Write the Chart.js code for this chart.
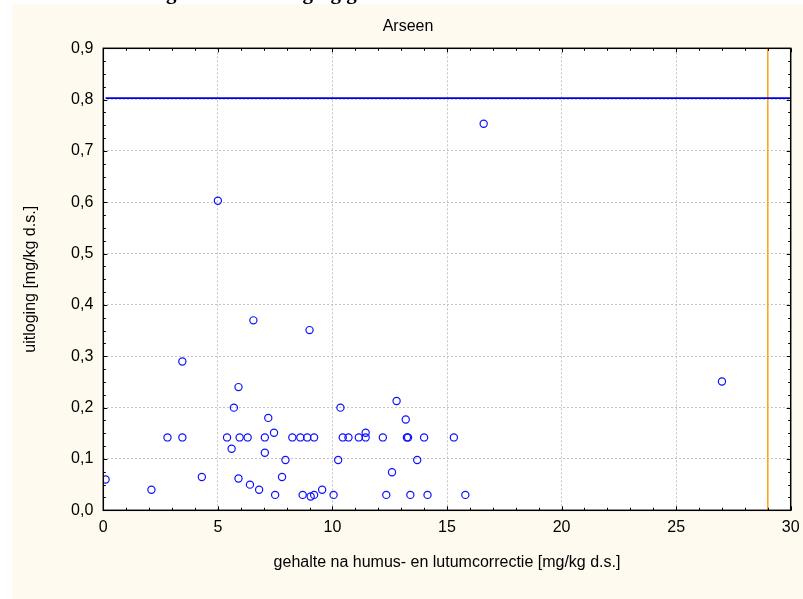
<!DOCTYPE html>
<html>
<head>
<meta charset="utf-8">
<script src="https://cdn.jsdelivr.net/npm/chart.js@4.4.1/dist/chart.umd.min.js"></script>
<style>
  html, body { margin: 0; padding: 0; background: #fff; overflow: hidden; }
  #wrap { width: 803px; height: 599px; }
  canvas { display: block; }
</style>
</head>
<body>
<div id="wrap"><canvas id="chart" width="803" height="599"></canvas></div>
<script>
// Arseen: gehalte (na correctie) tegen uitloging
const gehalte = [
  0.1, 2.1, 2.8, 3.45, 3.45, 4.3, 5.0, 5.4, 5.6, 5.7,
  5.9, 5.9, 5.95, 6.3, 6.4, 6.55, 6.8, 7.05, 7.05, 7.2,
  7.45, 7.5, 7.8, 7.95, 8.25, 8.6, 8.7, 8.9, 9.0, 9.05,
  9.2, 9.2, 9.55, 10.05, 10.25, 10.35, 10.45, 10.7, 11.15, 11.45,
  11.45, 12.2, 12.35, 12.6, 12.8, 13.2, 13.25, 13.3, 13.4, 13.7,
  14.0, 14.15, 15.3, 15.8, 16.6, 27.0
];
const uitloging = [
  0.06, 0.04, 0.142, 0.142, 0.29, 0.065, 0.603, 0.142, 0.12, 0.2,
  0.24, 0.062, 0.142, 0.142, 0.05, 0.37, 0.04, 0.142, 0.112, 0.18,
  0.151, 0.03, 0.065, 0.098, 0.142, 0.142, 0.03, 0.142, 0.351, 0.027,
  0.142, 0.03, 0.04, 0.03, 0.098, 0.2, 0.142, 0.142, 0.142, 0.142,
  0.151, 0.142, 0.03, 0.074, 0.213, 0.177, 0.142, 0.142, 0.03, 0.098,
  0.142, 0.03, 0.142, 0.03, 0.753, 0.251
];
const normUitloging = 0.803;   // horizontale grenswaarde
const normGehalte = 29;        // verticale grenswaarde
const xTicks = [0, 5, 10, 15, 20, 25, 30];
const yTicks = [0, 0.1, 0.2, 0.3, 0.4, 0.5, 0.6, 0.7, 0.8, 0.9];

const FONT = '"Liberation Sans", Arial, sans-serif';
const CREAM = 'rgb(255,250,239)';

const points = gehalte.map((g, i) => ({ x: g, y: uitloging[i] }));

// achtergrond, paneel en plotvlak
const background = {
  id: 'background',
  beforeDraw(chart) {
    const ctx = chart.ctx;
    const a = chart.chartArea;
    ctx.save();
    ctx.fillStyle = '#fff';
    ctx.fillRect(0, 0, chart.width, chart.height);
    // koptekst van de pagina, valt grotendeels buiten beeld
    const head = 'Relatie gehalte en uitloging grond';
    ctx.font = 'bold 21px "Liberation Serif", "Times New Roman", serif';
    ctx.fillStyle = '#000';
    ctx.textBaseline = 'alphabetic';
    const pre = ctx.measureText(head.slice(0, head.indexOf('g'))).width;
    ctx.fillText(head, 166 - pre, -1);
    ctx.fillStyle = CREAM;
    ctx.fillRect(12, 4, chart.width - 12, chart.height - 4);
    ctx.fillStyle = '#fff';
    ctx.fillRect(a.left, a.top, a.right - a.left, a.bottom - a.top);
    ctx.font = '16px ' + FONT;
    ctx.fillStyle = '#000';
    ctx.textAlign = 'center';
    ctx.textBaseline = 'middle';
    ctx.fillText('Arseen', 408, 27);
    ctx.restore();
  }
};

// kader met naar binnen gerichte streepjes op alle vier de zijden
const frame = {
  id: 'frame',
  afterDraw(chart) {
    const ctx = chart.ctx;
    const a = chart.chartArea;
    const xs = chart.scales.x, ys = chart.scales.y;
    ctx.save();
    ctx.strokeStyle = '#000';
    ctx.lineWidth = 1;
    ctx.beginPath();
    for (let v = 0; v <= 30; v += 1) {
      const px = Math.round(xs.getPixelForValue(v)) + 0.5;
      const len = v % 5 === 0 ? 4 : 2.5;
      ctx.moveTo(px, a.bottom); ctx.lineTo(px, a.bottom - len);
      ctx.moveTo(px, a.top); ctx.lineTo(px, a.top + len);
    }
    for (let k = 0; k <= 36; k++) {
      const py = Math.round(ys.getPixelForValue(k * 0.025)) + 0.5;
      const len = k % 4 === 0 ? 4 : 2.5;
      ctx.moveTo(a.left, py); ctx.lineTo(a.left + len, py);
      ctx.moveTo(a.right, py); ctx.lineTo(a.right - len, py);
    }
    ctx.stroke();
    ctx.lineWidth = 1.5;
    ctx.strokeRect(a.left, a.top, a.right - a.left, a.bottom - a.top);
    ctx.restore();
  }
};

new Chart(document.getElementById('chart'), {
  type: 'scatter',
  data: {
    datasets: [
      {
        label: 'meetpunten',
        data: points,
        pointStyle: 'circle',
        pointRadius: 3.6,
        pointBorderWidth: 1.2,
        pointBorderColor: '#1010ff',
        pointBackgroundColor: 'rgba(0,0,0,0)',
        showLine: false
      },
      {
        label: 'grens uitloging',
        data: [{ x: 0.1, y: normUitloging }, { x: 30, y: normUitloging }],
        showLine: true,
        borderColor: '#0000e8',
        borderWidth: 1.6,
        pointRadius: 0
      },
      {
        label: 'grens gehalte',
        data: [{ x: normGehalte, y: 0 }, { x: normGehalte, y: 0.9 }],
        showLine: true,
        borderColor: '#ffa41c',
        borderWidth: 1.6,
        pointRadius: 0
      }
    ]
  },
  options: {
    responsive: false,
    animation: false,
    events: [],
    layout: { padding: { top: 48.3, right: 12.3, left: 0, bottom: 0 } },
    plugins: {
      legend: { display: false },
      tooltip: { enabled: false }
    },
    scales: {
      x: {
        type: 'linear',
        min: 0,
        max: 30,
        afterBuildTicks: s => { s.ticks = xTicks.map(v => ({ value: v })); },
        afterFit: s => {
          s.height = 88.7;
          s.paddingLeft = 0;
          s.paddingRight = 0;
        },
        ticks: {
          color: '#000',
          font: { family: FONT, size: 16 },
          padding: 8,
          maxRotation: 0,
          callback: v => String(v)
        },
        grid: { color: '#c4c4c4', lineWidth: 1, drawTicks: false },
        border: { display: false, dash: [2, 2] },
        title: {
          display: true,
          text: 'gehalte na humus- en lutumcorrectie [mg/kg d.s.]',
          color: '#000',
          font: { family: FONT, size: 16 },
          padding: { top: 0, bottom: 26.4 }
        }
      },
      y: {
        type: 'linear',
        min: 0,
        max: 0.9,
        afterBuildTicks: s => { s.ticks = yTicks.map(v => ({ value: v })); },
        afterFit: s => {
          s.width = 103.3;
          s.paddingTop = 0;
          s.paddingBottom = 0;
        },
        ticks: {
          color: '#000',
          font: { family: FONT, size: 16 },
          padding: 10,
          callback: v => v.toFixed(1).replace('.', ',')
        },
        grid: { color: '#c4c4c4', lineWidth: 1, drawTicks: false },
        border: { display: false, dash: [2, 2] },
        title: {
          display: true,
          text: 'uitloging [mg/kg d.s.]',
          color: '#000',
          font: { family: FONT, size: 16 },
          padding: { top: 21.4, bottom: 0 }
        }
      }
    }
  },
  plugins: [background, frame]
});
</script>
</body>
</html>
